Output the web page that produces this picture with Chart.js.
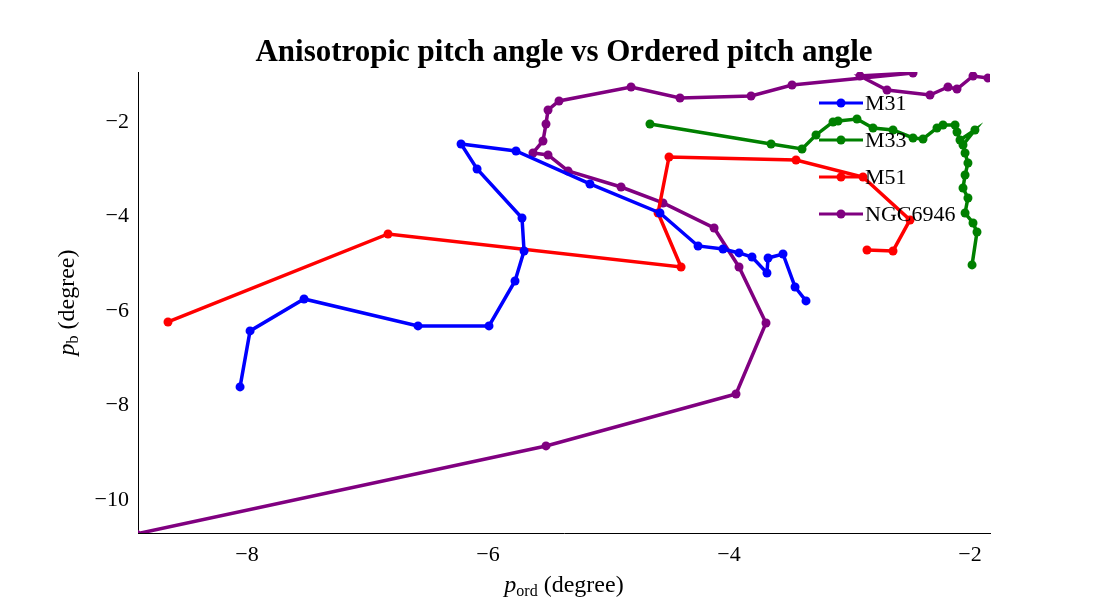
<!DOCTYPE html>
<html><head><meta charset="utf-8">
<script src="https://cdn.jsdelivr.net/npm/chart.js@4"></script>
<style>body{margin:0;background:#fff}</style>
</head><body>
<div style="width:1100px;height:600px"><canvas id="myChart"></canvas></div>
<script>
let m31X = [-8.058,-7.975,-7.527,-6.581,-5.992,-5.776,-5.701,-5.718,-6.091,-6.224,-5.768,-5.154,-4.573,-4.257,-4.050,-3.917,-3.809,-3.685,-3.676,-3.552,-3.452,-3.361];
let m31Y = [-7.608,-6.423,-5.746,-6.317,-6.317,-5.365,-4.730,-4.032,-2.995,-2.466,-2.614,-3.312,-3.926,-4.624,-4.688,-4.772,-4.857,-5.196,-4.878,-4.794,-5.492,-5.788];
let m33X = [-4.656,-3.651,-3.394,-3.278,-3.137,-3.095,-2.938,-2.805,-2.639,-2.473,-2.390,-2.274,-2.224,-2.124,-2.108,-2.083,-1.959,-2.058,-2.041,-2.017,-2.041,-2.058,-2.017,-2.041,-1.975,-1.942,-1.983];
let m33Y = [-2.042,-2.466,-2.571,-2.275,-2.000,-1.979,-1.937,-2.127,-2.169,-2.339,-2.360,-2.127,-2.063,-2.063,-2.212,-2.381,-2.169,-2.487,-2.656,-2.868,-3.122,-3.397,-3.608,-3.926,-4.138,-4.328,-5.026];
let m51X = [-8.656,-6.830,-4.398,-4.589,-4.498,-3.444,-2.888,-2.498,-2.639,-2.855];
let m51Y = [-6.233,-4.370,-5.069,-3.926,-2.741,-2.804,-3.164,-4.074,-4.730,-4.709];
let ngcX = [-8.92,-5.519,-3.942,-3.693,-3.917,-4.124,-4.548,-4.896,-5.336,-5.502,-5.627,-5.544,-5.519,-5.502,-5.411,-4.813,-4.407,-3.817,-3.477,-2.473,-2.913,-2.689,-2.332,-2.183,-2.108,-1.975,-1.851];
let ngcY = [-10.72,-8.857,-7.757,-6.254,-5.069,-4.243,-3.714,-3.376,-3.037,-2.698,-2.656,-2.402,-2.042,-1.746,-1.556,-1.259,-1.492,-1.450,-1.217,-0.963,-1.026,-1.323,-1.429,-1.259,-1.302,-1.026,-1.069];
let xTicks = [-8,-6,-4,-2];
let yTicks = [-10,-8,-6,-4,-2];
let names = ['M31','M33','M51','NGC6946'];
let colors = ['blue','green','red','purple'];

const serif = '"Liberation Serif", "DejaVu Serif", serif';
function pts(xs, ys) { return xs.map((x, i) => ({x: x, y: ys[i]})); }
let series = [[m31X,m31Y],[m33X,m33Y],[m51X,m51Y],[ngcX,ngcY]];

const deco = {
    id: 'deco',
    afterDraw(chart) {
        const c = chart.ctx, a = chart.chartArea;
        c.save();
        c.fillStyle = 'black';
        c.textAlign = 'center'; c.textBaseline = 'alphabetic';
        c.font = 'bold 31px ' + serif;
        c.fillText('Anisotropic pitch angle vs Ordered pitch angle', (a.left + a.right) / 2, 61);
        // x label
        let cx = (a.left + a.right) / 2, by = 596;
        c.textAlign = 'left';
        c.font = 'italic 24px ' + serif;
        let w1 = c.measureText('p').width;
        c.font = '16px ' + serif;
        let w2 = c.measureText('ord').width;
        c.font = '24px ' + serif;
        let w3 = c.measureText(' (degree)').width;
        let sx = cx - (w1 + w2 + w3) / 2;
        c.font = 'italic 24px ' + serif; c.fillText('p', sx, by - 4);
        c.font = '16px ' + serif; c.fillText('ord', sx + w1, by);
        c.font = '24px ' + serif; c.fillText(' (degree)', sx + w1 + w2, by - 4);
        // y label
        c.translate(74, (a.top + a.bottom) / 2);
        c.rotate(-Math.PI / 2);
        c.font = 'italic 24px ' + serif; w1 = c.measureText('p').width;
        c.font = '16px ' + serif; w2 = c.measureText('b').width;
        c.font = '24px ' + serif; w3 = c.measureText(' (degree)').width;
        sx = -(w1 + w2 + w3) / 2;
        c.font = 'italic 24px ' + serif; c.fillText('p', sx, 0);
        c.font = '16px ' + serif; c.fillText('b', sx + w1, 4);
        c.font = '24px ' + serif; c.fillText(' (degree)', sx + w1 + w2, 0);
        c.restore();
        // legend
        c.save();
        c.font = '22px ' + serif; c.textBaseline = 'middle'; c.textAlign = 'left';
        names.forEach((n, i) => {
            let y = 103 + i * 37;
            c.strokeStyle = colors[i]; c.fillStyle = colors[i]; c.lineWidth = 3;
            c.beginPath(); c.moveTo(819, y); c.lineTo(863, y); c.stroke();
            c.beginPath(); c.arc(841, y, 4.5, 0, 2 * Math.PI); c.fill();
            c.fillStyle = 'black'; c.fillText(n, 865, y + 1);
        });
        c.restore();
    }
};

new Chart("myChart", {
    type: "line",
    data: {
        datasets: series.map((s, i) => ({
            label: names[i],
            data: pts(s[0], s[1]),
            borderColor: colors[i],
            backgroundColor: colors[i],
            borderWidth: 3.5,
            pointRadius: 4.5,
            pointBorderWidth: 0,
            fill: false,
            tension: 0
        }))
    },
    options: {
        animation: false,
        responsive: true,
        maintainAspectRatio: false,
        layout: { padding: { top: 72, right: 110, left: 0, bottom: 0 } },
        plugins: { legend: { display: false }, tooltip: { enabled: false } },
        scales: {
            x: {
                type: 'linear', min: -8.905, max: -1.834,
                afterBuildTicks: s => { s.ticks = xTicks.map(v => ({value: v})); },
                afterFit: s => { s.height = 67; },
                grid: { display: false, drawOnChartArea: false, drawTicks: true, tickLength: 6, color: 'black' },
                border: { color: 'black', width: 1 },
                ticks: { color: 'black', font: { family: serif, size: 22 }, callback: v => String(v).replace('-', '\u2212') }
            },
            y: {
                type: 'linear', min: -10.70, max: -0.942,
                afterBuildTicks: s => { s.ticks = yTicks.map(v => ({value: v})); },
                afterFit: s => { s.width = 138; },
                grid: { display: false, drawOnChartArea: false, drawTicks: true, tickLength: 6, color: 'black' },
                border: { color: 'black', width: 1 },
                ticks: { color: 'black', font: { family: serif, size: 22 }, callback: v => String(v).replace('-', '\u2212') }
            }
        }
    },
    plugins: [deco]
});
</script>
</body></html>
